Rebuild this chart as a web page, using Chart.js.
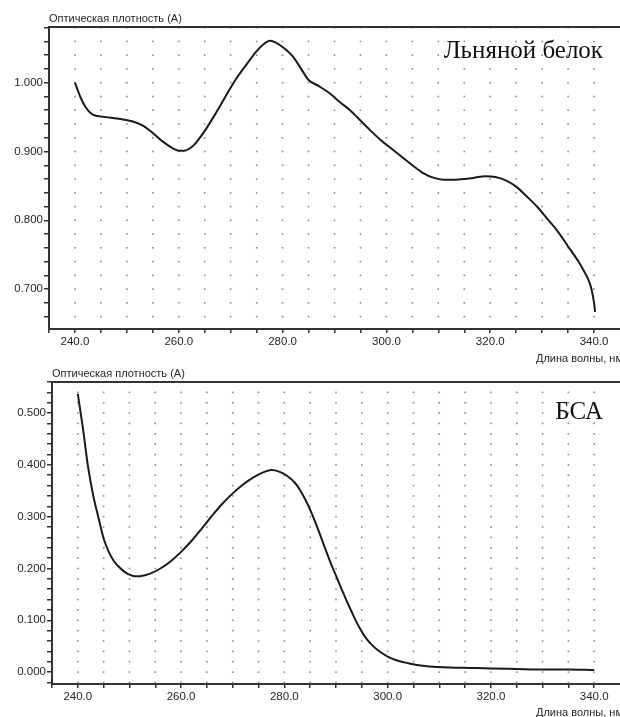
<!DOCTYPE html>
<html>
<head>
<meta charset="utf-8">
<script src="https://cdn.jsdelivr.net/npm/chart.js@4/dist/chart.umd.min.js"></script>
<style>
  body { margin: 0; background: #fff; }
  canvas { display: block; }
</style>
</head>
<body>
<canvas id="topChart" width="620" height="366"></canvas>
<canvas id="bottomChart" width="620" height="351"></canvas>
<script>
// spectrum 1: Льняной белок
const flaxX = [240, 241, 242, 243, 244, 245, 247, 249, 251, 253, 255, 257, 259, 260, 261, 262, 263, 265, 267, 269,
    271, 273, 275, 276.5, 277.5, 278.5, 280, 282, 284, 285, 287, 289, 291, 293, 295, 297, 299, 301, 303, 305,
    307, 309, 311, 313, 315, 317, 319, 321, 323, 325, 327, 329, 331, 333, 335, 337, 338, 339, 339.5, 340, 340.2];
const flaxY = [1.000, 0.980, 0.965, 0.956, 0.952, 0.951, 0.949, 0.947, 0.944, 0.938, 0.927, 0.914, 0.904, 0.901, 0.901, 0.904, 0.910, 0.930, 0.954, 0.980,
    1.005, 1.026, 1.046, 1.057, 1.061, 1.059, 1.052, 1.038, 1.015, 1.004, 0.995, 0.985, 0.972, 0.960, 0.945, 0.930, 0.916, 0.904, 0.892, 0.880,
    0.869, 0.862, 0.859, 0.859, 0.860, 0.862, 0.864, 0.863, 0.858, 0.849, 0.835, 0.820, 0.802, 0.784, 0.762, 0.740, 0.727, 0.712, 0.700, 0.680, 0.667];

// spectrum 2: БСА
const bsaX = [240, 241, 242, 243, 244, 245, 246, 247, 248, 249, 250, 251, 252, 253, 254, 256, 258, 260, 262, 264,
    266, 268, 270, 272, 274, 276, 277.5, 279, 280.5, 282, 283, 284, 285, 286, 287, 288, 289, 290, 291, 292,
    293, 294, 295, 296, 297, 298, 300, 302, 304, 306, 308, 312, 316, 320, 325, 330, 335, 340];
const bsaY = [0.537, 0.470, 0.395, 0.340, 0.298, 0.258, 0.232, 0.214, 0.203, 0.194, 0.188, 0.185, 0.185, 0.187, 0.190, 0.200, 0.214, 0.232, 0.253, 0.277,
    0.302, 0.325, 0.345, 0.362, 0.376, 0.386, 0.390, 0.387, 0.379, 0.366, 0.352, 0.334, 0.313, 0.289, 0.263, 0.236, 0.210, 0.186, 0.162, 0.139,
    0.117, 0.096, 0.078, 0.063, 0.052, 0.043, 0.030, 0.022, 0.017, 0.013, 0.011, 0.009, 0.008, 0.007, 0.006, 0.005, 0.005, 0.004];

const xTickLabels = [240, 260, 280, 300, 320, 340];
const flaxYLabels = [0.700, 0.800, 0.900, 1.000];
const bsaYLabels = [0.000, 0.100, 0.200, 0.300, 0.400, 0.500];

const AXIS_COLOR = "#333";
const TEXT_COLOR = "#262626";
const tickFont = { family: "'Liberation Sans', Arial, sans-serif", size: 11.5 };

// every 0.02 between lo and hi
function minorSteps(lo, hi, step) {
    const out = [];
    for (let v = lo; v <= hi + 1e-9; v += step) out.push(Math.round(v * 1000) / 1000);
    return out;
}

const decor = {
    id: "decor",
    beforeDatasetsDraw(chart, args, opts) {
        const { ctx, chartArea: a, scales: { x, y } } = chart;
        ctx.save();
        // dotted grid
        ctx.fillStyle = "#8a8a8a";
        x.ticks.forEach(tx => {
            if (tx.value < 240) return;
            const px = x.getPixelForValue(tx.value);
            y.ticks.forEach(ty => {
                const py = y.getPixelForValue(ty.value);
                ctx.fillRect(px - 0.8, py - 0.8, 1.6, 1.6);
            });
        });
        // top frame line
        ctx.strokeStyle = AXIS_COLOR;
        ctx.lineWidth = 2;
        ctx.beginPath();
        ctx.moveTo(a.left, a.top);
        ctx.lineTo(a.right, a.top);
        ctx.stroke();
        ctx.restore();
    },
    afterDraw(chart, args, opts) {
        const { ctx, chartArea: a } = chart;
        ctx.save();
        ctx.fillStyle = TEXT_COLOR;
        ctx.font = "11px 'Liberation Sans', Arial, sans-serif";
        ctx.textAlign = "left";
        ctx.textBaseline = "alphabetic";
        ctx.fillText("Оптическая плотность (А)", a.left, a.top - 5);
        ctx.fillText("Длина волны, нм", 536, opts.xTitleY);
        ctx.fillStyle = "#111";
        ctx.font = "25px 'Liberation Serif', 'Times New Roman', serif";
        ctx.textAlign = "right";
        ctx.fillText(opts.label, 603, opts.labelY);
        ctx.restore();
    }
};

function makeConfig(xs, ys, yMin, yMax, yLabels, yWidth, padTop, xHeight, label, labelY, xTitleY) {
    const yMinor = minorSteps(Math.ceil(yMin / 0.02) * 0.02, yMax, 0.02);
    const xMinor = minorSteps(235, 340, 5);
    return {
        type: "line",
        data: {
            datasets: [{
                data: xs.map((v, i) => ({ x: v, y: ys[i] })),
                borderColor: "#1a1a1a",
                borderWidth: 2,
                pointRadius: 0,
                cubicInterpolationMode: "monotone",
                fill: false
            }]
        },
        options: {
            responsive: false,
            animation: false,
            layout: { padding: { top: padTop, left: 0, right: 0, bottom: 0 } },
            plugins: {
                legend: { display: false },
                title: { display: false },
                tooltip: { enabled: false },
                decor: { label, labelY, xTitleY }
            },
            scales: {
                x: {
                    type: "linear",
                    min: 235,
                    max: 345,
                    afterBuildTicks: (s) => { s.ticks = xMinor.map(v => ({ value: v })); },
                    afterFit: (s) => { s.height = xHeight; },
                    ticks: {
                        autoSkip: false,
                        maxRotation: 0,
                        padding: 2,
                        color: TEXT_COLOR,
                        font: tickFont,
                        callback: (v) => xTickLabels.includes(v) ? v.toFixed(1) : ""
                    },
                    grid: { drawOnChartArea: false, drawTicks: true, tickLength: 4, color: AXIS_COLOR, lineWidth: 1.5 },
                    border: { display: true, color: AXIS_COLOR, width: 2 }
                },
                y: {
                    min: yMin,
                    max: yMax,
                    afterBuildTicks: (s) => { s.ticks = yMinor.map(v => ({ value: v })); },
                    afterFit: (s) => { s.width = yWidth; },
                    ticks: {
                        autoSkip: false,
                        padding: 1,
                        color: TEXT_COLOR,
                        font: tickFont,
                        callback: (v) => yLabels.some(l => Math.abs(l - v) < 1e-6) ? v.toFixed(3) : ""
                    },
                    grid: { drawOnChartArea: false, drawTicks: true, tickLength: 5, color: AXIS_COLOR, lineWidth: 1.5 },
                    border: { display: true, color: AXIS_COLOR, width: 2 }
                }
            }
        },
        plugins: [decor]
    };
}

new Chart(document.getElementById("topChart"),
    makeConfig(flaxX, flaxY, 0.642, 1.081, flaxYLabels, 49, 27, 37, "Льняной белок", 58, 362));
new Chart(document.getElementById("bottomChart"),
    makeConfig(bsaX, bsaY, -0.023, 0.560, bsaYLabels, 52, 16, 33, "БСА", 53, 350));
</script>
</body>
</html>
